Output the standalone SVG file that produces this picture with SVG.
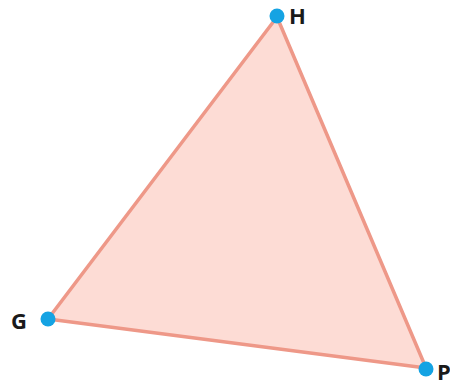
<svg xmlns="http://www.w3.org/2000/svg" width="450" height="381" viewBox="0 0 450 381">
<style>
.dot{fill:#15A3E3}
.lbl{font-family:"Open Sans","Noto Sans","Liberation Sans",sans-serif;font-weight:bold;font-size:22px;fill:#1a1a1a}
</style>
<rect width="450" height="381" fill="#ffffff"/>
<g id="connectors">
<polygon points="277,17 48,319 426,368" fill="#FDDCD5" stroke="#EE9888" stroke-width="3.5" stroke-linejoin="round"/>
</g>
<g id="H"><circle class="dot" cx="277" cy="16" r="7.5"/><text class="lbl" x="289" y="24">H</text></g>
<g id="G"><circle class="dot" cx="48" cy="319" r="7.5"/><text class="lbl" x="11" y="329">G</text></g>
<g id="P"><circle class="dot" cx="426" cy="369" r="7.5"/><text class="lbl" x="437" y="380">P</text></g>
</svg>
